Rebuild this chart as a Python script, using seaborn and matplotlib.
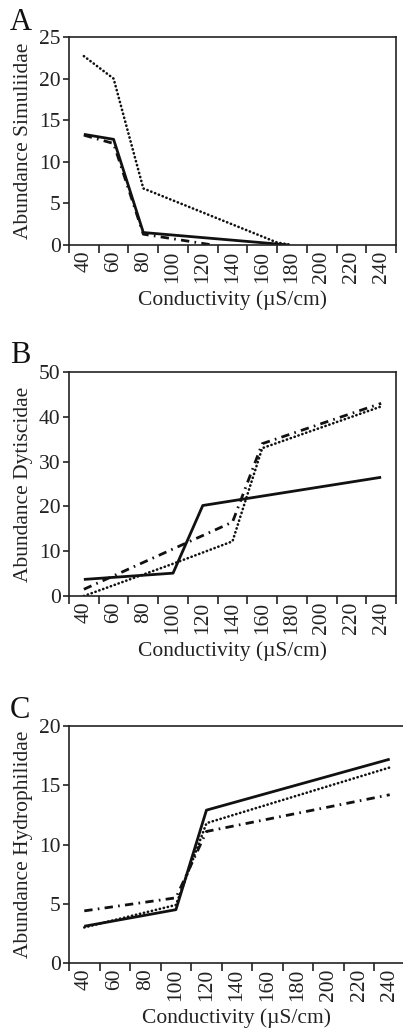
import matplotlib
matplotlib.use("Agg")
import matplotlib.pyplot as plt
import seaborn as sns
import numpy as np

sns.set_style("ticks")
plt.rcParams['font.family'] = ['Liberation Serif', 'DejaVu Serif']

# Category labels (conductivity, µS/cm)
cond_labels = [40, 60, 80, 100, 120, 140, 160, 180, 200, 220, 240]

# Panel A: Simuliidae
a_solid_x = [40, 60, 80, 178]
a_solid_y = [13.3, 12.7, 1.5, 0.0]
a_dot_x = [40, 60, 80, 170, 180]
a_dot_y = [22.7, 20.0, 6.8, 0.3, 0.0]
a_dd_x = [40, 60, 80, 125]
a_dd_y = [13.2, 12.2, 1.3, 0.05]

# Panel B: Dytiscidae
b_solid_x = [40, 100, 120, 240]
b_solid_y = [3.7, 5.1, 20.2, 26.5]
b_dot_x = [40, 100, 140, 160, 240]
b_dot_y = [0.0, 7.2, 12.2, 33.0, 42.3]
b_dd_x = [40, 140, 160, 240]
b_dd_y = [1.5, 16.5, 34.0, 43.0]

# Panel C: Hydrophilidae
c_solid_x = [40, 100, 120, 240]
c_solid_y = [3.1, 4.5, 12.9, 17.2]
c_dot_x = [40, 100, 120, 240]
c_dot_y = [3.0, 4.9, 11.8, 16.5]
c_dd_x = [40, 100, 120, 240]
c_dd_y = [4.4, 5.5, 11.1, 14.2]

panels = [
    dict(letter="A", ylabel="Abundance Simuliidae", ylim=(0, 25), yticks=[0, 5, 10, 15, 20, 25],
         series=[(a_solid_x, a_solid_y, '-'), (a_dot_x, a_dot_y, ':'), (a_dd_x, a_dd_y, '-.')],
         rect=[69/403, (1029-245)/1029, 327/403, 208/1029], letter_y=30),
    dict(letter="B", ylabel="Abundance Dytiscidae", ylim=(0, 50), yticks=[0, 10, 20, 30, 40, 50],
         series=[(b_solid_x, b_solid_y, '-'), (b_dot_x, b_dot_y, ':'), (b_dd_x, b_dd_y, '-.')],
         rect=[69/403, (1029-596)/1029, 327/403, 224/1029], letter_y=363),
    dict(letter="C", ylabel="Abundance Hydrophilidae", ylim=(0, 20), yticks=[0, 5, 10, 15, 20],
         series=[(c_solid_x, c_solid_y, '-'), (c_dot_x, c_dot_y, ':'), (c_dd_x, c_dd_y, '-.')],
         rect=[69/403, (1029-963)/1029, 336/403, 237/1029], letter_y=718),
]

styles = {
    '-': dict(linestyle='-', linewidth=2.0),
    ':': dict(linestyle=(0, (0.1, 1.45)), linewidth=1.9),
    '-.': dict(linestyle=(0, (3.0, 1.9, 0.6, 1.9)), linewidth=2.0),
}

fig = plt.figure(figsize=(4.03, 10.29), dpi=100)
fs = 15.5
for p in panels:
    ax = fig.add_axes(p["rect"])
    for xs, ys, ls in p["series"]:
        st = styles[ls]
        sns.lineplot(x=xs, y=ys, ax=ax, color='#111111', sort=False,
                     linestyle=st['linestyle'], linewidth=st['linewidth'])
        ln = ax.lines[-1]
        ln.set_dash_capstyle('round' if ls == ':' else 'butt')
        ln.set_solid_capstyle('butt')
    ax.set_xlim(30, 250)
    ax.set_ylim(*p["ylim"])
    ax.set_xticks(np.arange(30, 251, 20))
    ax.set_xticklabels([])
    ax.set_xticks(cond_labels, minor=True)
    ax.set_xticklabels([str(v) for v in cond_labels], minor=True, rotation=90,
                       fontsize=fs, color='#222222')
    ax.tick_params(axis='x', which='major', direction='out', length=6, width=1.2, color='#222222')
    ax.tick_params(axis='x', which='minor', length=0, pad=4)
    ax.set_yticks(p["yticks"])
    ax.set_yticklabels([str(v) for v in p["yticks"]], fontsize=fs, color='#222222')
    ax.tick_params(axis='y', direction='out', length=4, width=1.2, color='#222222', pad=2)
    for s in ax.spines.values():
        s.set_visible(True)
        s.set_linewidth(1.2)
        s.set_color('#222222')
    ax.set_xlabel("Conductivity (µS/cm)", fontsize=fs, color='#222222', labelpad=5)
    ax.set_ylabel(p["ylabel"], fontsize=fs, color='#222222', labelpad=4)
    ax.grid(False)
    fig.text(10/403, 1 - p["letter_y"]/1029, p["letter"], fontsize=22, color='#111111',
             ha='left', va='baseline')

fig.savefig("out.png", dpi=100, facecolor='white')
